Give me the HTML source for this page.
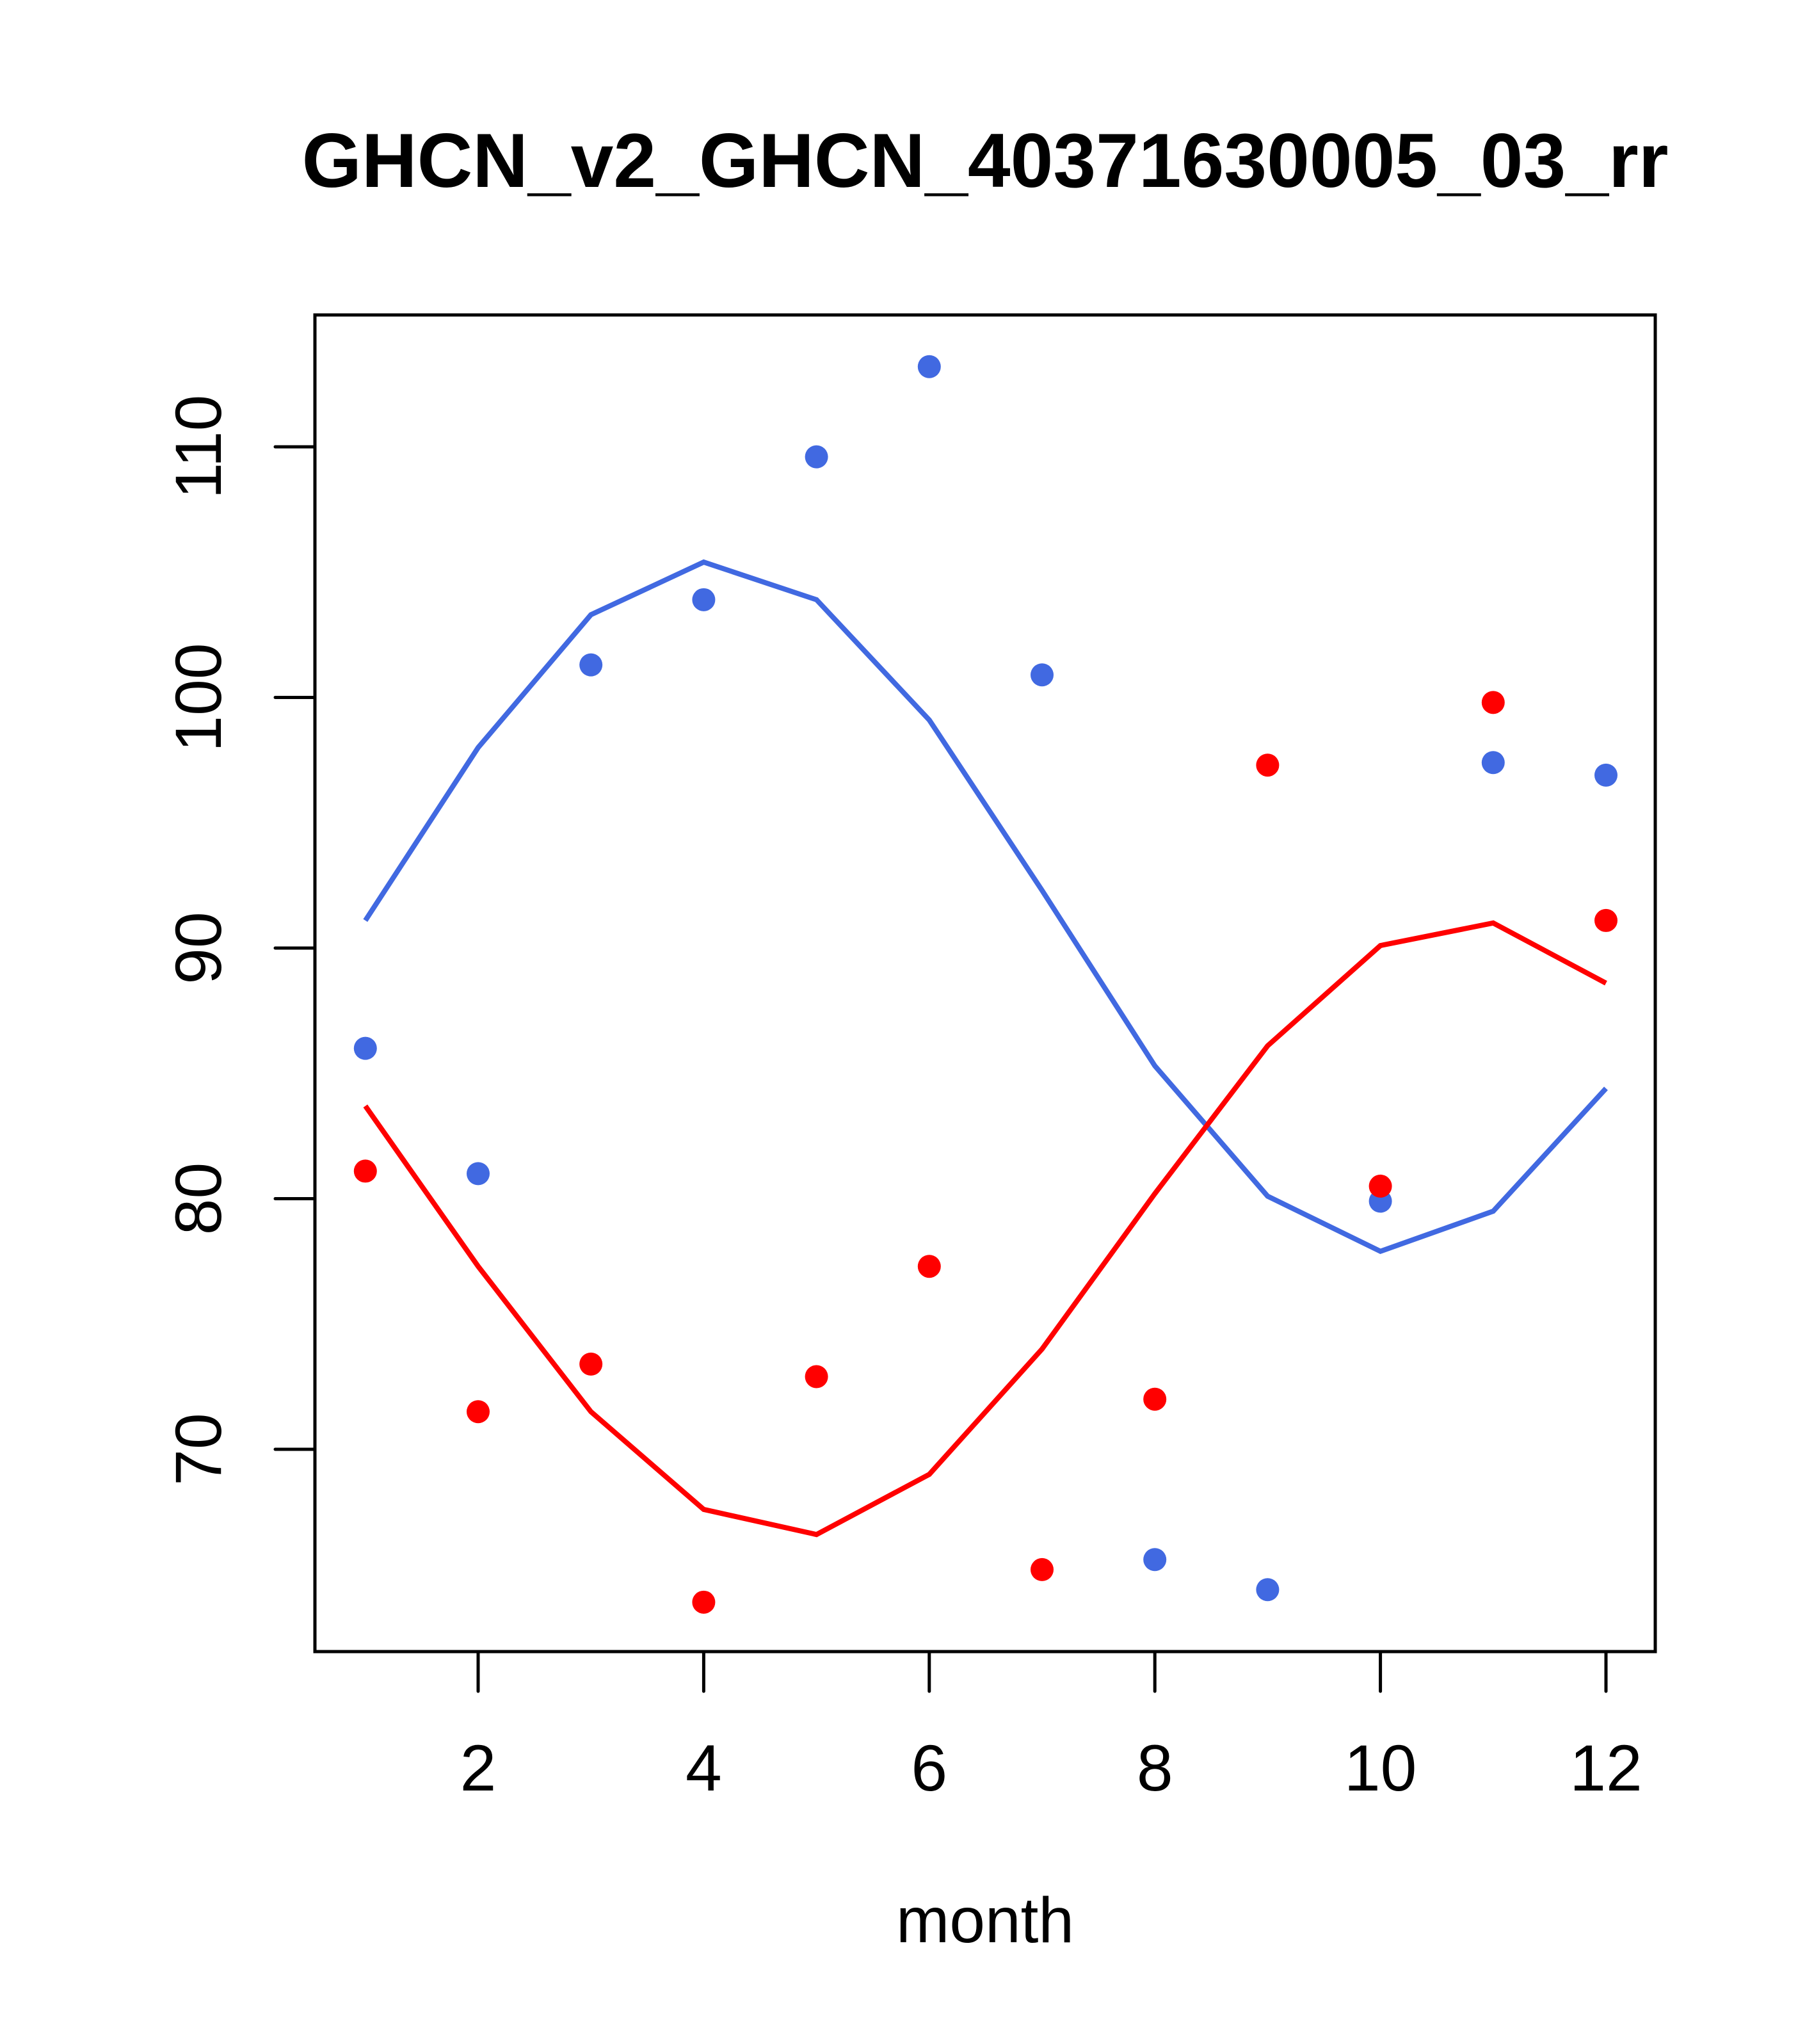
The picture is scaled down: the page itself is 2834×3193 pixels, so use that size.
<!DOCTYPE html>
<html><head><meta charset="utf-8"><style>html,body{margin:0;padding:0;background:#fff}</style></head>
<body>
<svg id="chart" width="2834" height="3188" xmlns="http://www.w3.org/2000/svg" font-family="Liberation Sans, sans-serif">
<rect width="2834" height="3188" fill="#fff"/>
<text x="1539" y="292" font-size="120" font-weight="bold" text-anchor="middle">GHCN_v2_GHCN_40371630005_03_rr</text>
<text x="1539" y="3034" font-size="100" text-anchor="middle">month</text>
<g id="plot"></g>
</svg>
<script>
const months = [1,2,3,4,5,6,7,8,9,10,11,12];
const bluePoints = [86.0,81.0,101.3,103.9,109.6,113.2,100.9,65.6,64.4,79.9,97.4,96.9];
const redPoints = [81.1,71.5,73.4,63.9,72.9,77.3,65.2,72.0,97.3,80.5,99.8,91.1];
const blueLine = [91.1,98.0,103.3,105.4,103.9,99.1,92.3,85.3,80.1,77.9,79.5,84.4];
const redLine = [83.7,77.3,71.5,67.6,66.6,69.0,74.0,80.2,86.1,90.1,91.0,88.6];
const xTicks = [2,4,6,8,10,12];
const yTicks = [70,80,90,100,110];

const NS="http://www.w3.org/2000/svg";
const g=document.getElementById('plot');
const L=492,R=2586,T=492,B=2580;
const xs=m=>747+(m-2)*176.2;
const ys=v=>698+(110-v)*39.15;
function mk(tag,at){const e=document.createElementNS(NS,tag);for(const k in at)e.setAttribute(k,at[k]);g.appendChild(e);return e;}
const box=mk('rect',{x:L,y:T,width:R-L,height:B-T,fill:'none',stroke:'#000','stroke-width':5});


xTicks.forEach(t=>{
  const l=mk('line',{x1:xs(t),x2:xs(t),y1:B,y2:B+62,stroke:'#000','stroke-width':5,'stroke-linecap':'round'});
  
  
  const tx=mk('text',{x:xs(t),y:2797,'font-size':102,'text-anchor':'middle'});tx.textContent=t;
  
  
});
yTicks.forEach(t=>{
  const l=mk('line',{x1:L-62,x2:L,y1:ys(t),y2:ys(t),stroke:'#000','stroke-width':5,'stroke-linecap':'round'});
  
  
  const tx=mk('text',{x:0,y:0,'font-size':102,'text-anchor':'middle',transform:`translate(345,${ys(t)}) rotate(-90)`});tx.textContent=t;
  
  
});
function line(arr,col,name){
  const p=mk('polyline',{points:arr.map((v,i)=>xs(months[i])+','+ys(v)).join(' '),fill:'none',stroke:col,'stroke-width':8});
  
  
}
function pts(arr,col,name){
  arr.forEach((v,i)=>{const c=mk('circle',{cx:xs(months[i]),cy:ys(v),r:18,fill:col});
  
  });
}
line(blueLine,'#4169e1','blue-fit-line');
line(redLine,'#ff0000','red-fit-line');
pts(bluePoints,'#4169e1','blue-point');
pts(redPoints,'#ff0000','red-point');
</script>
</body></html>
